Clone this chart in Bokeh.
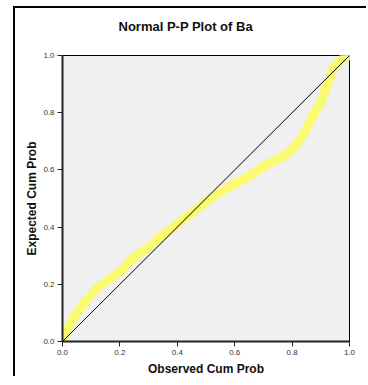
from bokeh.plotting import figure
from bokeh.models import FixedTicker, Title
from bokeh.embed import file_html
from bokeh.resources import INLINE

# Observed vs expected cumulative probabilities
observed_cum = [0.0, 0.005, 0.039, 0.080, 0.121, 0.167, 0.208, 0.243, 0.295, 0.341,
                0.394, 0.446, 0.492, 0.539, 0.597, 0.661, 0.713, 0.771, 0.806, 0.841,
                0.870, 0.899, 0.916, 0.934, 0.945, 0.969, 0.992, 1.0]
expected_cum = [0.005, 0.020, 0.083, 0.141, 0.187, 0.221, 0.250, 0.291, 0.325, 0.366,
                0.406, 0.446, 0.481, 0.516, 0.550, 0.585, 0.619, 0.648, 0.677, 0.725,
                0.786, 0.833, 0.879, 0.925, 0.959, 0.983, 1.0, 1.0]
ref_line = [0.0, 1.0]
ticks = [0.0, 0.2, 0.4, 0.6, 0.8, 1.0]
tick_labels = {0.0: "0.0", 0.2: "0.2", 0.4: "0.4", 0.6: "0.6", 0.8: "0.8", 1.0: "1.0"}
title_text = "Normal P-P Plot of Ba"

FONT = "Liberation Sans"
YELLOW = "#fafa73"

p = figure(width=353, height=370, x_range=(0, 1), y_range=(0, 1),
           output_backend="svg", toolbar_location=None, title=None,
           min_border_left=47, min_border_right=19,
           min_border_top=47, min_border_bottom=34)
# outer frame: left and top edges only, drawn as an offset shadow
p.styles = {"margin-left": "15px", "margin-top": "8px",
            "box-shadow": "-2px -2px 0px 0px black"}

# spacer between plot area and title, then the title itself
p.add_layout(Title(text=" ", text_font_size="4px", text_font=FONT), "above")
p.add_layout(Title(text=title_text, text_font=FONT, text_font_size="13px",
                   text_font_style="bold", align="left", offset=56,
                   text_color="#111111"), "above")

p.background_fill_color = "#f0f0f0"
p.border_fill_color = "white"
p.outline_line_color = "black"
p.outline_line_width = 1
p.grid.visible = False

for ax in (p.xaxis, p.yaxis):
    ax.ticker = FixedTicker(ticks=ticks)
    ax.major_label_overrides = tick_labels
    ax.minor_tick_line_color = None
    ax.major_tick_in = 0
    ax.major_tick_out = 5
    ax.major_tick_line_color = "#222222"
    ax.axis_line_width = 2
    ax.axis_line_color = "#222222"
    ax.major_label_text_font = FONT
    ax.major_label_text_font_size = "8px"
    ax.major_label_text_color = "#333333"
    ax.major_label_standoff = 3
    ax.axis_label_text_font = FONT
    ax.axis_label_text_font_size = "12px"
    ax.axis_label_text_font_style = "bold"
    ax.axis_label_text_color = "#111111"
    ax.axis_label_standoff = 4

p.yaxis.axis_label_standoff = 1
p.xaxis.axis_label = "Observed Cum Prob"
p.yaxis.axis_label = "Expected Cum Prob"

p.line(observed_cum, expected_cum, line_color=YELLOW, line_width=9,
       line_join="round", line_cap="round")
p.scatter(observed_cum, expected_cum, size=9, fill_color=YELLOW, line_color=YELLOW)
p.line(ref_line, ref_line, line_color="black", line_width=1)

open("out.html", "w").write(file_html(p, INLINE))
